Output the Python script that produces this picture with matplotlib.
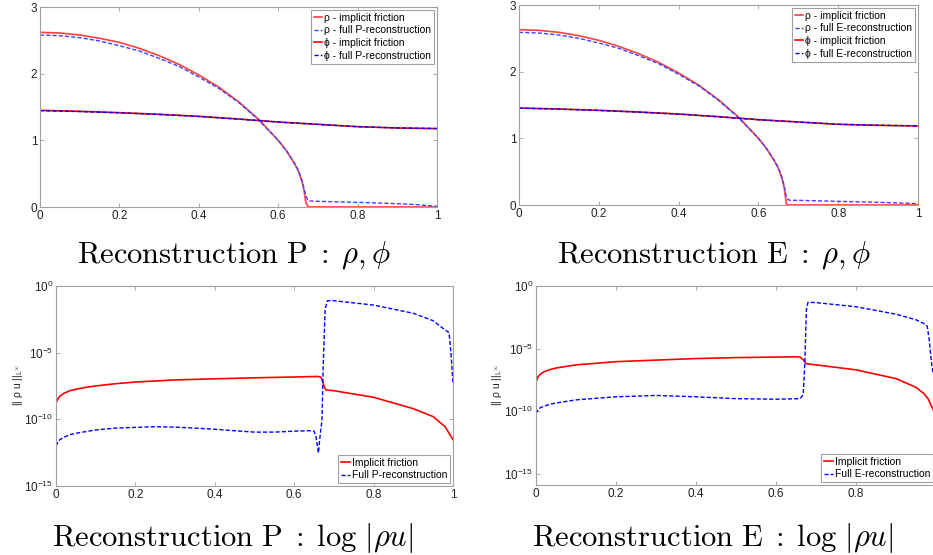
import numpy as np
import matplotlib
matplotlib.use('Agg')
from matplotlib import pyplot as plt

plt.rcParams['font.family'] = ['Liberation Sans', 'DejaVu Sans']
plt.rcParams['mathtext.fontset'] = 'cm'

# ---- top row: rho and phi profiles ----
x_rho = [0, 0.05, 0.1, 0.15, 0.2, 0.25, 0.3, 0.35, 0.4, 0.45, 0.5, 0.55, 0.6,
         0.62, 0.64, 0.65, 0.66, 0.665, 0.67, 0.675, 0.68, 0.7, 0.8, 0.9, 0.95, 1.0]
rho_impl_P = [2.62, 2.61, 2.58, 2.53, 2.47, 2.38, 2.27, 2.14, 1.98, 1.80, 1.58, 1.32, 1.00,
              0.85, 0.66, 0.55, 0.38, 0.25, 0.06, 0.01, 0.0, 0.0, 0.0, 0.0, 0.0, 0.0]
rho_full_P = [2.58, 2.57, 2.54, 2.49, 2.42, 2.34, 2.23, 2.11, 1.95, 1.78, 1.57, 1.31, 1.00,
              0.85, 0.67, 0.56, 0.40, 0.28, 0.16, 0.10, 0.09, 0.085, 0.07, 0.05, 0.035, 0.01]
rho_impl_E = [2.63, 2.62, 2.59, 2.54, 2.47, 2.38, 2.27, 2.14, 1.98, 1.80, 1.58, 1.32, 1.00,
              0.85, 0.66, 0.55, 0.38, 0.25, 0.02, 0.0, 0.0, 0.0, 0.0, 0.0, 0.0, 0.0]
rho_full_E = [2.59, 2.58, 2.55, 2.50, 2.43, 2.35, 2.24, 2.12, 1.96, 1.79, 1.57, 1.31, 1.00,
              0.85, 0.67, 0.56, 0.40, 0.28, 0.12, 0.08, 0.07, 0.07, 0.055, 0.04, 0.03, 0.02]

x_phi = [0, 0.1, 0.2, 0.3, 0.4, 0.5, 0.6, 0.7, 0.8, 0.9, 1.0]
phi_impl_P = [1.45, 1.435, 1.415, 1.39, 1.36, 1.32, 1.275, 1.24, 1.205, 1.185, 1.175]
phi_full_P = [1.445, 1.432, 1.413, 1.388, 1.358, 1.318, 1.274, 1.239, 1.205, 1.186, 1.178]
phi_impl_E = [1.455, 1.44, 1.42, 1.395, 1.365, 1.325, 1.28, 1.245, 1.21, 1.195, 1.185]
phi_full_E = [1.452, 1.438, 1.418, 1.393, 1.363, 1.323, 1.279, 1.245, 1.211, 1.196, 1.188]

# ---- bottom row: |rho u| (log scale) ----
x_ru_impl_P = [0, 0.005, 0.01, 0.02, 0.035, 0.05, 0.075, 0.1, 0.15, 0.2, 0.3, 0.4, 0.5, 0.6,
               0.66, 0.668, 0.675, 0.68, 0.7, 0.8, 0.9, 0.95, 0.98, 1.0]
ru_impl_P = [1.8e-9, 3.5e-9, 5.5e-9, 9e-9, 1.4e-8, 1.8e-8, 2.5e-8, 3.2e-8, 4.7e-8, 6.3e-8,
             9e-8, 1.1e-7, 1.3e-7, 1.5e-7, 1.65e-7, 1.4e-7, 3.2e-8, 1.6e-8, 1.4e-8, 4.5e-9,
             6.3e-10, 1.6e-10, 2.8e-11, 3e-12]
x_ru_full_P = [0, 0.005, 0.01, 0.02, 0.035, 0.05, 0.1, 0.15, 0.2, 0.25, 0.3, 0.35, 0.4, 0.45,
               0.5, 0.55, 0.6, 0.64, 0.65, 0.655, 0.661, 0.665, 0.67, 0.673, 0.678, 0.684,
               0.7, 0.8, 0.9, 0.95, 0.98, 0.99, 0.995, 1.0]
ru_full_P = [1e-12, 2e-12, 3e-12, 4.5e-12, 7e-12, 9e-12, 1.6e-11, 2.2e-11, 2.5e-11, 2.8e-11,
             2.6e-11, 2.2e-11, 1.8e-11, 1.4e-11, 1.1e-11, 1.1e-11, 1.3e-11, 1.4e-11, 1.3e-11,
             5e-12, 3e-13, 5e-12, 9e-11, 1e-6, 2e-2, 7.9e-2, 7.9e-2, 3.7e-2, 9e-3, 2.5e-3,
             5e-4, 3.2e-4, 9e-6, 5e-8]

x_ru_impl_E = [0, 0.005, 0.01, 0.02, 0.035, 0.05, 0.1, 0.2, 0.3, 0.4, 0.5, 0.6, 0.65, 0.66,
               0.668, 0.675, 0.7, 0.8, 0.9, 0.95, 0.97, 0.98, 0.99, 1.0]
ru_impl_E = [2.2e-8, 5.6e-8, 8.5e-8, 1.4e-7, 2.1e-7, 2.8e-7, 5e-7, 9e-7, 1.2e-6, 1.6e-6,
             1.9e-6, 2.1e-6, 2.2e-6, 2.1e-6, 1.3e-6, 6.3e-7, 5e-7, 2e-7, 4e-8, 8e-9, 2.5e-9,
             1e-9, 2e-10, 5e-11]
x_ru_full_E = [0, 0.005, 0.01, 0.02, 0.035, 0.05, 0.1, 0.2, 0.3, 0.4, 0.5, 0.6, 0.66, 0.668,
               0.672, 0.676, 0.68, 0.7, 0.8, 0.9, 0.95, 0.97, 0.978, 0.983, 0.99, 1.0]
ru_full_E = [6.3e-11, 1.3e-10, 1.8e-10, 2.5e-10, 3.6e-10, 4.5e-10, 8e-10, 1.4e-9, 1.8e-9,
             1.4e-9, 1e-9, 9e-10, 1e-9, 2e-9, 6.3e-7, 1.3e-2, 5e-2, 4.7e-2, 2.2e-2, 5.6e-3,
             2e-3, 1e-3, 6.3e-4, 5e-5, 3.2e-7, 1e-8]

titles = [r'$\mathrm{Reconstruction\ P\;{:}\;}\rho,\phi$',
          r'$\mathrm{Reconstruction\ E\;{:}\;}\rho,\phi$',
          r'$\mathrm{Reconstruction\ P\;{:}\;}\log\,|\rho u|$',
          r'$\mathrm{Reconstruction\ E\;{:}\;}\log\,|\rho u|$']

red = '#ff0000'
blue = '#0000ff'
light_red = '#ff4040'
light_blue = '#4040ff'
dash = (3, 1.5)

W, H = 933, 555
fig = plt.figure(figsize=(W / 100, H / 100), dpi=100)


def box(l, r, t, b):
    # pixel box -> figure fraction
    return [l / W, (H - b) / H, (r - l) / W, (b - t) / H]


def style(ax):
    for s in ax.spines.values():
        s.set_color('#a0a0a0')
        s.set_linewidth(0.8)
    ax.tick_params(direction='in', top=True, right=True, length=3, width=0.6,
                   color='#a0a0a0', labelsize=8.5, labelcolor='#222222', pad=2)
    ax.minorticks_off()


def legend(ax, loc):
    lg = ax.legend(loc=loc, fontsize=7.5, handlelength=0.8, handletextpad=0.2,
                   labelspacing=0.25, borderpad=0.3, borderaxespad=0.25,
                   fancybox=False, framealpha=1, edgecolor='#a0a0a0')
    lg.get_frame().set_linewidth(0.8)


# top plots
top = [(box(40, 437, 7, 207), rho_impl_P, rho_full_P, phi_impl_P, phi_full_P, 'P'),
       (box(519, 918, 5, 205), rho_impl_E, rho_full_E, phi_impl_E, phi_full_E, 'E')]
for pos, ri, rf, pi, pf, tag in top:
    ax = fig.add_axes(pos)
    ax.plot(x_rho, ri, color=light_red, lw=1.2, label='ρ - implicit friction')
    ax.plot(x_rho, rf, color=light_blue, lw=1.0, dashes=dash, label='ρ - full %s-reconstruction' % tag)
    ax.plot(x_phi, pi, color=red, lw=1.2, label='ϕ - implicit friction')
    ax.plot(x_phi, pf, color=blue, lw=1.0, dashes=dash, label='ϕ - full %s-reconstruction' % tag)
    ax.set_xlim(0, 1)
    ax.set_ylim(0, 3)
    ax.set_xticks([0, 0.2, 0.4, 0.6, 0.8, 1])
    ax.set_xticklabels(['0', '0.2', '0.4', '0.6', '0.8', '1'])
    ax.set_yticks([0, 1, 2, 3])
    style(ax)
    legend(ax, 'upper right')

# bottom plots
bottom = [(box(56, 453, 286, 486), x_ru_impl_P, ru_impl_P, x_ru_full_P, ru_full_P, 'P', 1e-15, 18),
          (box(536, 936, 286, 485), x_ru_impl_E, ru_impl_E, x_ru_full_E, ru_full_E, 'E', 10**-15.9, 497)]
for pos, xi, yi, xf, yf, tag, ymin, ylab_x in bottom:
    ax = fig.add_axes(pos)
    ax.semilogy(xi, yi, color=red, lw=1.2, label='Implicit friction')
    ax.semilogy(xf, yf, color=blue, lw=1.0, dashes=dash, label='Full %s-reconstruction' % tag)
    ax.set_xlim(0, 1)
    ax.set_ylim(ymin, 1)
    ax.set_xticks([0, 0.2, 0.4, 0.6, 0.8, 1])
    ax.set_xticklabels(['0', '0.2', '0.4', '0.6', '0.8', '1'])
    ax.set_yticks([1e-15, 1e-10, 1e-5, 1])
    style(ax)
    legend(ax, 'lower right')
    fig.text(ylab_x / W, 1 - 385 / H, r'|| ρ u ||$_{\mathsf{L}^{\infty}}$', rotation=90,
             ha='center', va='center', fontsize=7.5, color='#222222')

# captions under each plot
caps = [(234, 263), (714, 263), (233, 546), (713, 546)]
for (cx, cy), t in zip(caps, titles):
    fig.text(cx / W, 1 - cy / H, t, ha='center', va='baseline', fontsize=22)

plt.savefig('out.png', dpi=100)
